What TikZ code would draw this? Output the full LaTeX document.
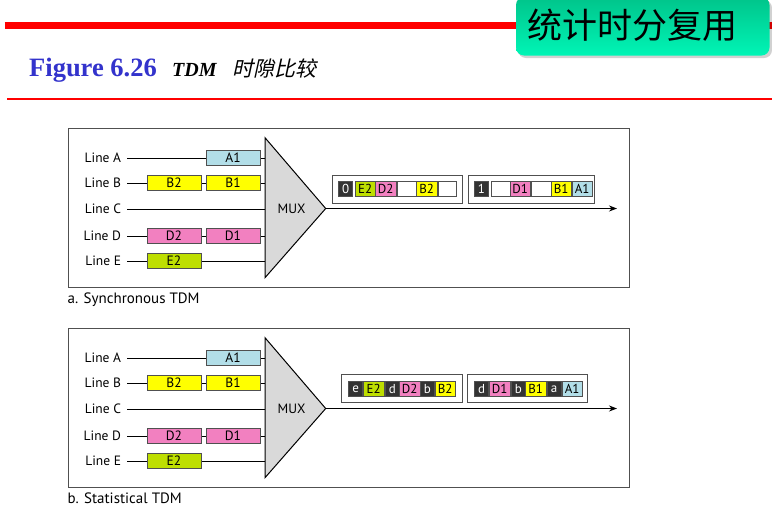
\documentclass[tikz,border=0pt]{standalone}
\usepackage{fontspec}
\setmainfont{Liberation Serif}
\newfontfamily\diagfont{PT Sans}
\newfontfamily\cjkfont{Noto Sans CJK SC}
\newfontfamily\cjkslant[FakeSlant=0.22]{Noto Sans CJK SC}
\usetikzlibrary{arrows.meta}

\definecolor{titleblue}{RGB}{51,51,204}
\definecolor{rulered}{RGB}{255,0,0}
\definecolor{pktA}{RGB}{178,222,232}
\definecolor{pktB}{RGB}{255,255,0}
\definecolor{pktD}{RGB}{242,128,192}
\definecolor{pktE}{RGB}{190,222,0}
\definecolor{darkslot}{RGB}{51,51,51}
\definecolor{muxgray}{RGB}{217,217,217}
\definecolor{edgegray}{RGB}{80,80,80}
\definecolor{greentop}{RGB}{0,196,138}
\definecolor{greenbot}{RGB}{0,245,182}

\tikzset{
  lbl/.style={font=\diagfont\fontsize{13.5}{13.5}\selectfont, anchor=east,
    inner sep=0pt, outer xsep=6pt},
  pkt/.style={draw=edgegray, line width=0.8pt, minimum width=54pt,
    minimum height=15.5pt, inner sep=0pt,
    font=\diagfont\fontsize{13.5}{13.5}\selectfont},
  slot/.style={draw=edgegray, line width=0.7pt, fill=white, anchor=west,
    minimum width=20.5pt, minimum height=15pt, inner sep=0pt,
    font=\diagfont\fontsize{13}{13}\selectfont},
  hdr/.style={slot, fill=darkslot, text=white, minimum width=14pt},
  framebox/.style={draw=edgegray, line width=1pt, fill=white,
    inner sep=0pt, minimum height=28pt},
  panel/.style={draw=edgegray, line width=1pt},
  caption/.style={font=\diagfont\fontsize{15}{15}\selectfont, anchor=base west,
    inner sep=0pt},
  wire/.style={line width=1pt, black},
  outarrow/.style={line width=1pt, black, -{Stealth[length=8pt,width=6pt]}},
}

% Input lines, packets and multiplexer of one panel; #1 = name prefix
\newcommand\muxpanel[1]{%
  \coordinate (#1mt) at (265,137.7);
  \coordinate (#1mb) at (265,277.7);
  \coordinate (#1mx) at (325.7,208.5);
  \filldraw[fill=muxgray, draw=black, line width=1pt, line join=miter]
    (#1mt) -- (#1mx) -- (#1mb) -- cycle;
  \node[font=\diagfont\fontsize{13.5}{13.5}\selectfont] (#1mux) at (291.5,209) {MUX};
  \node[lbl] (#1la) at (127,158) {Line A};
  \node[lbl] (#1lb) at (127,183) {Line B};
  \node[lbl] (#1lc) at (127,209) {Line C};
  \node[lbl] (#1ld) at (127,236) {Line D};
  \node[lbl] (#1le) at (127,261) {Line E};
  \coordinate (#1ia) at (265,158);
  \coordinate (#1ib) at (265,183);
  \coordinate (#1ic) at (265,209);
  \coordinate (#1id) at (265,236);
  \coordinate (#1ie) at (265,261);
  \draw[wire] (#1la.east) -- (#1ia);
  \draw[wire] (#1lb.east) -- (#1ib);
  \draw[wire] (#1lc.east) -- (#1ic);
  \draw[wire] (#1ld.east) -- (#1id);
  \draw[wire] (#1le.east) -- (#1ie);
  \node[pkt, fill=pktA] (#1pA1) at (233,158) {A1};
  \node[pkt, fill=pktB] (#1pB2) at (174,183) {B2};
  \node[pkt, fill=pktB] (#1pB1) at (233,183) {B1};
  \node[pkt, fill=pktD] (#1pD2) at (174,236) {D2};
  \node[pkt, fill=pktD] (#1pD1) at (233,236) {D1};
  \node[pkt, fill=pktE] (#1pE2) at (174,261) {E2};
}

\begin{document}
\begin{tikzpicture}[x=1pt, y=-1pt]
  \useasboundingbox (0,0) rectangle (772,515);
  \fill[white] (0,0) rectangle (772,515);

  % heading rules
  \draw[rulered, line width=6.5pt] (4.7,25.7) -- (772,25.7);
  \draw[rulered, line width=1.8pt] (7,99.3) -- (772,99.3);

  % heading tab
  \fill[black, opacity=0.18, rounded corners=8pt] (518,0) rectangle (772,58);
  \shade[top color=greentop, bottom color=greenbot, rounded corners=8pt]
    (516,-3) rectangle (769.5,55.5);
  \node[font=\cjkfont\fontsize{35}{35}\selectfont, anchor=west, inner sep=0pt]
    (tab) at (527,25) {统计时分复用};

  % figure title
  \node[font=\bfseries\fontsize{26.5}{26.5}\selectfont, text=titleblue,
    anchor=base west, inner sep=0pt] (fig) at (29,76) {Figure 6.26};
  \node[font=\bfseries\itshape\fontsize{20}{20}\selectfont,
    anchor=base west, inner sep=0pt] (tdm) at (172,76) {TDM};
  \node[font=\cjkslant\fontsize{21}{21}\selectfont,
    anchor=base west, inner sep=0pt] (cmp) at (232,76) {时隙比较};

  % ---------- a. Synchronous TDM ----------
  \draw[panel] (68,128) rectangle (629,287);
  \node[caption] (capa) at (67.5,303.3) {a. Synchronous TDM};
  \muxpanel{a}
  \coordinate (aout) at (617,208.5);
  \draw[outarrow] (amx) -- (aout);

  \node[framebox, minimum width=130.4pt] (fa1) at (397.5,189.9) {};
  \node[hdr]  (a1h)  at (338.3,189.3) {0};
  \node[slot, fill=pktE] (a1s1) at (354.5,189.3) {E2};
  \node[slot, fill=pktD] (a1s2) at (375,189.3) {D2};
  \node[slot]            (a1s3) at (396.5,189.3) {};
  \node[slot, fill=pktB] (a1s4) at (416,189.3) {B2};
  \node[slot, minimum width=18.5pt] (a1s5) at (437.5,189.3) {};

  \node[framebox, minimum width=125.7pt] (fa2) at (531.2,189.9) {};
  \node[hdr, minimum width=13.5pt] (a2h) at (474.3,189.3) {1};
  \node[slot]            (a2s1) at (490.5,189.3) {};
  \node[slot, fill=pktD] (a2s2) at (509.5,189.3) {D1};
  \node[slot]            (a2s3) at (531,189.3) {};
  \node[slot, fill=pktB] (a2s4) at (550.5,189.3) {B1};
  \node[slot, fill=pktA] (a2s5) at (571.5,189.3) {A1};

  % ---------- b. Statistical TDM ----------
  \draw[panel] (68,328.5) rectangle (629,487.5);
  \node[caption] (capb) at (67.5,503) {b. Statistical TDM};
  \begin{scope}[yshift=-200pt]
    \muxpanel{b}
  \end{scope}
  \coordinate (bout) at (617,408.5);
  \draw[outarrow] (bmx) -- (bout);

  \node[framebox, minimum width=121pt] (fb1) at (402.2,388.5) {};
  \node[hdr]             (b1h1) at (348.3,389.2) {e};
  \node[slot, fill=pktE] (b1s1) at (363,389.2) {E2};
  \node[hdr]             (b1h2) at (385,389.2) {d};
  \node[slot, fill=pktD] (b1s2) at (399,389.2) {D2};
  \node[hdr]             (b1h3) at (420,389.2) {b};
  \node[slot, fill=pktB] (b1s3) at (434.5,389.2) {B2};

  \node[framebox, minimum width=119.6pt] (fb2) at (527.5,388.5) {};
  \node[hdr]             (b2h1) at (474.3,389.2) {d};
  \node[slot, fill=pktD] (b2s1) at (489,389.2) {D1};
  \node[hdr]             (b2h2) at (511,389.2) {b};
  \node[slot, fill=pktB] (b2s2) at (525,389.2) {B1};
  \node[hdr]             (b2h3) at (546.7,389.2) {a};
  \node[slot, fill=pktA] (b2s3) at (561.5,389.2) {A1};
\end{tikzpicture}
\end{document}
